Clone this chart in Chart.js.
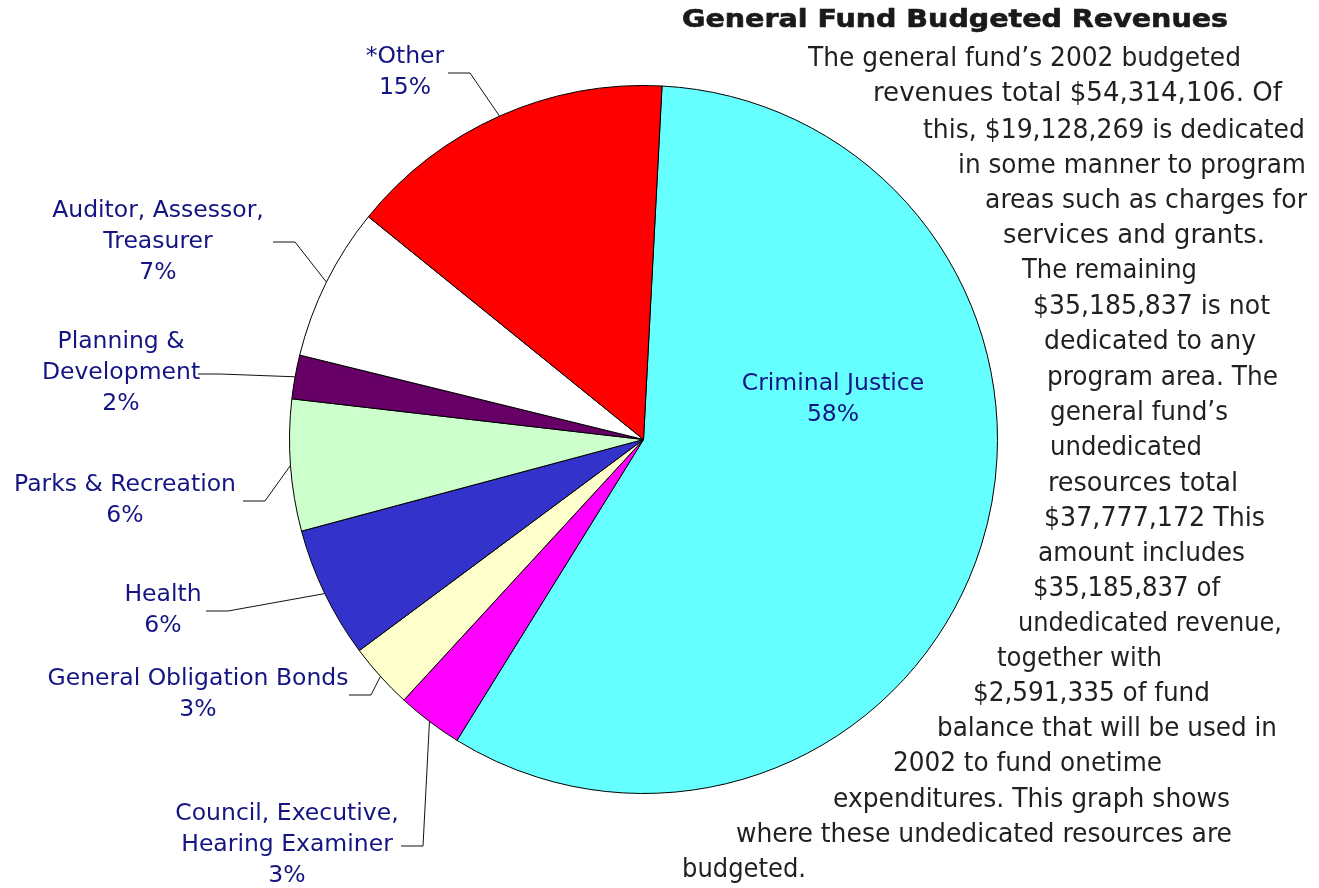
<!DOCTYPE html>
<html>
<head>
<meta charset="utf-8">
<title>General Fund Budgeted Revenues</title>
<script src="https://cdn.jsdelivr.net/npm/chart.js@4"></script>
<style>
  html, body { margin: 0; padding: 0; background: #fff; }
  #wrap { position: relative; width: 1319px; height: 888px; overflow: hidden; }
  #wrap canvas { position: absolute; left: 0; top: 0; }
  .txt {
    position: absolute;
    white-space: nowrap;
    transform-origin: 0 50%;
    color: #231f20;
  }
  .para { font-family: "Liberation Sans Narrow", "DejaVu Sans Condensed", "Liberation Sans", sans-serif; font-size: 27px; line-height: 30px; }
  .title { font-family: "DejaVu Sans", sans-serif; font-weight: bold; font-size: 24px; line-height: 26px; color: #1a1a1a; -webkit-text-stroke: 0.6px #1a1a1a; }
</style>
</head>
<body>
<div id="wrap">
  <canvas id="budget-pie" width="1319" height="888"></canvas>
</div>

<script>
// slices go clockwise from just right of 12 o'clock
const categories = [
    ["Criminal Justice"],
    ["Council, Executive,", "Hearing Examiner"],
    ["General Obligation Bonds"],
    ["Health"],
    ["Parks & Recreation"],
    ["Planning &", "Development"],
    ["Auditor, Assessor,", "Treasurer"],
    ["*Other"]
]
const shares = [58, 3, 3, 6, 6, 2, 7, 15]
const sliceColors = ["#66ffff", "#ff00ff", "#ffffcc", "#3333cc", "#ccffcc", "#660066", "#ffffff", "#ff0000"]

// where each label sits: text centre, first line y, and leader elbow (null = inside the slice)
const labelSpots = [
    { x: 833, y: 384, elbow: null },
    { x: 287, y: 814, elbow: [423, 846] },
    { x: 198, y: 679, elbow: [371, 695] },
    { x: 163, y: 595, elbow: [228, 611] },
    { x: 125, y: 485, elbow: [265, 501] },
    { x: 121, y: 342, elbow: [220, 374] },
    { x: 158, y: 211, elbow: [295, 242] },
    { x: 405, y: 57, elbow: [470, 73] }
]

const titleText = "General Fund Budgeted Revenues"

// [text, left, right, middle y]
const paraLines = [
    ["The general fund\u2019s 2002 budgeted", 808, 1241, 57],
    ["revenues total $54,314,106. Of", 873, 1282, 92],
    ["this, $19,128,269 is dedicated", 923, 1305, 129],
    ["in some manner to program", 958, 1306, 164],
    ["areas such as charges for", 985, 1307, 199],
    ["services and grants.", 1003, 1265, 234],
    ["The remaining", 1022, 1197, 269],
    ["$35,185,837 is not", 1033, 1270, 305],
    ["dedicated to any", 1044, 1256, 340],
    ["program area. The", 1047, 1278, 376],
    ["general fund\u2019s", 1050, 1228, 411],
    ["undedicated", 1050, 1202, 446],
    ["resources total", 1048, 1238, 482],
    ["$37,777,172 This", 1044, 1265, 517],
    ["amount includes", 1038, 1245, 552],
    ["$35,185,837 of", 1033, 1220, 587],
    ["undedicated revenue,", 1018, 1282, 622],
    ["together with", 997, 1162, 657],
    ["$2,591,335 of fund", 973, 1210, 692],
    ["balance that will be used in", 937, 1277, 727],
    ["2002 to fund onetime", 893, 1162, 762],
    ["expenditures. This graph shows", 833, 1230, 798],
    ["where these undedicated resources are", 736, 1232, 833],
    ["budgeted.", 682, 806, 868]
]

const wrap = document.getElementById("wrap")

function placeLine(text, cls, left, right, midY, lineH) {
    const el = document.createElement("div")
    el.className = "txt " + cls
    el.textContent = text
    el.style.left = left + "px"
    el.style.top = (midY - lineH / 2) + "px"
    wrap.appendChild(el)
    const w = el.getBoundingClientRect().width
    if (w > 0) el.style.transform = `scaleX(${(right - left) / w})`
}

placeLine(titleText, "title", 682, 1228, 19, 26)
paraLines.forEach(l => placeLine(l[0], "para", l[1], l[2], l[3], 30))

const labelFont = '23.5px "DejaVu Sans", sans-serif'
const labelColor = "#141482"
const lineGap = 31

const sliceLabels = {
    id: "sliceLabels",
    afterDatasetsDraw(chart) {
        const ctx = chart.ctx
        const arcs = chart.getDatasetMeta(0).data
        ctx.save()
        ctx.font = labelFont
        ctx.fillStyle = labelColor
        ctx.textAlign = "center"
        ctx.textBaseline = "middle"
        arcs.forEach((arc, i) => {
            const spot = labelSpots[i]
            const lines = categories[i].concat([shares[i] + "%"])
            lines.forEach((ln, k) => ctx.fillText(ln, spot.x, spot.y + k * lineGap))

            if (!spot.elbow) return
            const p = arc.getProps(["x", "y", "startAngle", "endAngle", "outerRadius"], true)
            const mid = (p.startAngle + p.endAngle) / 2
            const sx = p.x + Math.cos(mid) * p.outerRadius
            const sy = p.y + Math.sin(mid) * p.outerRadius
            ctx.beginPath()
            ctx.strokeStyle = "#111"
            ctx.lineWidth = 1
            ctx.moveTo(sx, sy)
            ctx.lineTo(spot.elbow[0], spot.elbow[1])
            ctx.lineTo(spot.elbow[0] - 22, spot.elbow[1])
            ctx.stroke()
        })
        ctx.restore()
    }
}

new Chart("budget-pie", {
    type: "pie",
    data: {
        labels: categories,
        datasets: [{
            data: shares,
            backgroundColor: sliceColors,
            borderColor: "#000",
            borderWidth: 1
        }]
    },
    options: {
        responsive: false,
        animation: false,
        rotation: 3,
        layout: {
            padding: { left: 289, top: 85, right: 321, bottom: 94 }
        },
        plugins: {
            legend: { display: false },
            tooltip: { enabled: false },
            title: { display: false }
        }
    },
    plugins: [sliceLabels]
})
</script>
</body>
</html>
